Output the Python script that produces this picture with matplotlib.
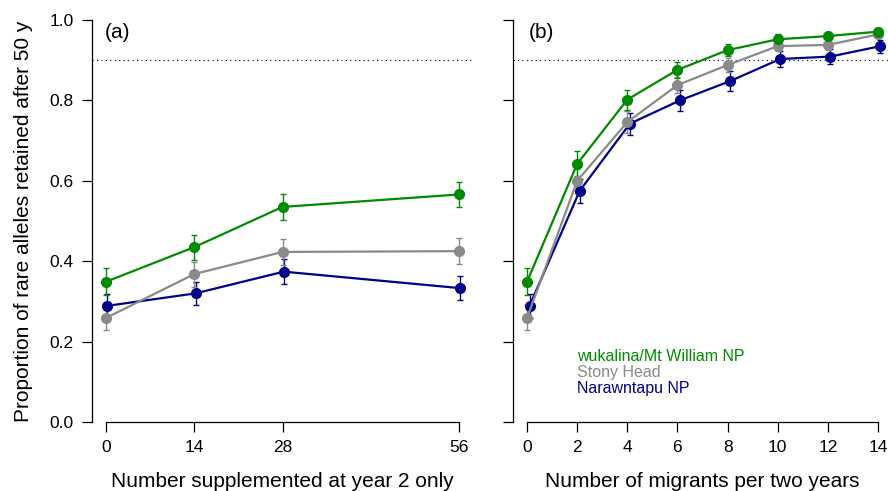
import matplotlib
matplotlib.use("Agg")
import matplotlib.pyplot as plt
import numpy as np

plt.rcParams['font.family'] = ['Liberation Sans', 'DejaVu Sans']

# panel (a): supplementation at year 2 only
supp_x = [0, 14, 28, 56]
supp_green = [0.349, 0.435, 0.535, 0.566]
supp_green_err = [0.034, 0.031, 0.032, 0.031]
supp_grey = [0.259, 0.368, 0.423, 0.425]
supp_grey_err = [0.031, 0.031, 0.032, 0.032]
supp_blue = [0.289, 0.320, 0.374, 0.333]
supp_blue_err = [0.030, 0.029, 0.031, 0.030]

# panel (b): migrants every two years
migr_x = [0, 2, 4, 6, 8, 10, 12, 14]
migr_green = [0.349, 0.642, 0.802, 0.876, 0.925, 0.952, 0.960, 0.971]
migr_green_err = [0.034, 0.031, 0.025, 0.020, 0.015, 0.012, 0.010, 0.008]
migr_grey = [0.259, 0.600, 0.746, 0.838, 0.888, 0.935, 0.938, 0.964]
migr_grey_err = [0.031, 0.030, 0.028, 0.020, 0.017, 0.012, 0.012, 0.008]
migr_blue = [0.289, 0.575, 0.742, 0.800, 0.848, 0.903, 0.909, 0.935]
migr_blue_err = [0.030, 0.030, 0.027, 0.027, 0.025, 0.020, 0.018, 0.016]

site_names = ["wukalina/Mt William NP", "Stony Head", "Narawntapu NP"]
site_colors = ["#008B00", "#8A8A8A", "#00008B"]

target = 0.9


def draw_series(ax, x, y, err, color, dx):
    xs = np.array(x) + dx
    ax.errorbar(xs, y, yerr=err, color=color, lw=1.6, marker='o', ms=7,
                elinewidth=1.0, capsize=2, capthick=1.0, zorder=3)


def style_axes(ax, xticks, ylabels=True):
    ax.set_ylim(0, 1)
    span = xticks[-1] - xticks[0]
    ax.set_xlim(xticks[0] - 0.04 * span, xticks[-1] + 0.04 * span)
    ax.spines['top'].set_visible(False)
    ax.spines['right'].set_visible(False)
    ax.spines['left'].set_bounds(0, 1)
    ax.spines['bottom'].set_bounds(xticks[0], xticks[-1])
    for s in ('left', 'bottom'):
        ax.spines[s].set_linewidth(0.9)
    ax.set_xticks(xticks)
    ax.set_yticks([0.0, 0.2, 0.4, 0.6, 0.8, 1.0])
    if ylabels:
        ax.set_yticklabels(["0.0", "0.2", "0.4", "0.6", "0.8", "1.0"])
    else:
        ax.set_yticklabels([])
    ax.tick_params(axis='both', direction='out', length=7, width=0.9,
                   labelsize=12.5, pad=6)
    ax.axhline(target, color='black', lw=0.8, ls=(0, (1, 3)), zorder=1)


fig = plt.figure(figsize=(8.88, 4.91), dpi=100)
ax1 = fig.add_axes([92 / 888, 1 - 422 / 491, 381 / 888, 402 / 491])
ax2 = fig.add_axes([513 / 888, 1 - 422 / 491, 379 / 888, 402 / 491])

# panel (a)
style_axes(ax1, supp_x)
draw_series(ax1, supp_x, supp_blue, supp_blue_err, site_colors[2], 0.2)
draw_series(ax1, supp_x, supp_grey, supp_grey_err, site_colors[1], 0.0)
draw_series(ax1, supp_x, supp_green, supp_green_err, site_colors[0], 0.0)
ax1.text(-0.2, 0.97, "(a)", fontsize=15, va='center', ha='left')
ax1.set_xlabel("Number supplemented at year 2 only", fontsize=15)
ax1.xaxis.set_label_coords(0.5, -0.125)
ax1.set_ylabel("Proportion of rare alleles retained after 50 y", fontsize=15)
ax1.yaxis.set_label_coords(-0.155, 0.5)

# panel (b)
style_axes(ax2, migr_x, ylabels=False)
draw_series(ax2, migr_x, migr_blue, migr_blue_err, site_colors[2], 0.1)
draw_series(ax2, migr_x, migr_grey, migr_grey_err, site_colors[1], 0.0)
draw_series(ax2, migr_x, migr_green, migr_green_err, site_colors[0], 0.0)
ax2.text(0.05, 0.97, "(b)", fontsize=15, va='center', ha='left')
ax2.set_xlabel("Number of migrants per two years", fontsize=15)
ax2.xaxis.set_label_coords(0.5, -0.125)

# legend as coloured text
legend_y = [0.162, 0.123, 0.084]
for name, col, yy in zip(site_names, site_colors, legend_y):
    ax2.text(2.0, yy, name, color=col, fontsize=11.5, va='center', ha='left')

fig.savefig("out.png", dpi=100)
